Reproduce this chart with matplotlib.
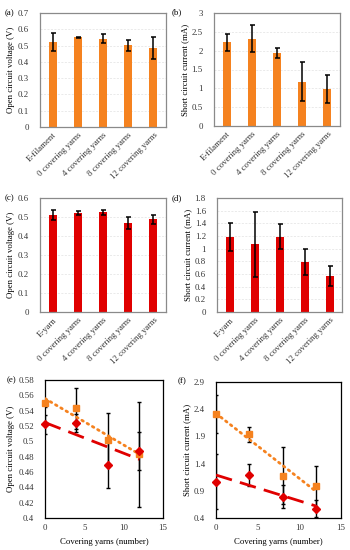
import matplotlib.pyplot as plt
import numpy as np
from matplotlib.ticker import FuncFormatter, MultipleLocator

plt.rcParams['font.family'] = ['Liberation Serif', 'DejaVu Serif']
plt.rcParams['font.size'] = 6.3

ORANGE = '#f5821f'
RED = '#e00000'

# bar chart data
fil_labels = ['E-filament', '0 covering yarns', '4 covering yarns',
              '8 covering yarns', '12 covering yarns']
yarn_labels = ['E-yarn', '0 covering yarns', '4 covering yarns',
               '8 covering yarns', '12 covering yarns']

fil_voc = [0.520, 0.550, 0.543, 0.502, 0.483]
fil_voc_err = [0.055, 0.005, 0.027, 0.035, 0.068]
fil_isc = [2.22, 2.32, 1.94, 1.18, 0.98]
fil_isc_err = [0.23, 0.35, 0.14, 0.52, 0.38]

yarn_voc = [0.510, 0.522, 0.524, 0.469, 0.487]
yarn_voc_err = [0.025, 0.012, 0.012, 0.030, 0.025]
yarn_isc = [1.18, 1.07, 1.19, 0.79, 0.57]
yarn_isc_err = [0.22, 0.51, 0.20, 0.21, 0.16]

# scatter data: number of covering yarns
cover_n = [0, 4, 8, 12]


def fmt(v, pos):
    return '%g' % round(v, 3)


def bar_panel(ax, labels, vals, errs, color, ymax, step, ylabel):
    x = np.arange(len(labels))
    ax.bar(x, vals, width=0.32, color=color, zorder=2)
    ax.errorbar(x, vals, yerr=errs, fmt='none', ecolor='black',
                elinewidth=1.1, capsize=1.8, capthick=1.1, zorder=3)
    ax.set_xlim(-0.5, len(labels) - 0.5)
    ax.set_ylim(0, ymax)
    ax.yaxis.set_major_locator(MultipleLocator(step))
    ax.yaxis.set_major_formatter(FuncFormatter(fmt))
    ax.set_xticks(x)
    ax.set_xticklabels(labels, rotation=45, ha='right', va='top',
                       rotation_mode='anchor')
    ax.tick_params(length=0, pad=3, colors='#333333')
    ax.tick_params(axis='y', pad=8)
    ax.yaxis.grid(True, color='#e2e2e2', lw=0.5, ls=(0, (3, 2)), zorder=0)
    for s in ax.spines.values():
        s.set_color('#8a8a8a')
        s.set_linewidth(0.9)
    ax.set_ylabel(ylabel, labelpad=2)


def trend_panel(ax, fil, fil_err, yarn, yarn_err, ylo, yhi, step, ylabel):
    xs = np.array(cover_n)
    ax.errorbar(cover_n, fil, yerr=fil_err, fmt='none', ecolor='black',
                elinewidth=1.0, capsize=1.5, capthick=1.0, zorder=2)
    ax.errorbar(cover_n, yarn, yerr=yarn_err, fmt='none', ecolor='black',
                elinewidth=1.0, capsize=1.5, capthick=1.0, zorder=2)
    p = np.polyfit(xs, fil, 1)
    ax.plot(xs, np.polyval(p, xs), color=ORANGE, lw=2.0,
            ls=(0, (0.6, 1.6)), dash_capstyle='round', zorder=3)
    p = np.polyfit(xs, yarn, 1)
    ax.plot(xs, np.polyval(p, xs), color=RED, lw=2.0,
            ls=(0, (6, 3)), zorder=3)
    ax.plot(cover_n, fil, 's', color=ORANGE, ms=4.5, zorder=4, clip_on=False)
    ax.plot(cover_n, yarn, 'D', color=RED, ms=3.8, zorder=4, clip_on=False)
    ax.set_xlim(0, 15)
    ax.set_ylim(ylo, yhi)
    ax.xaxis.set_major_locator(MultipleLocator(5))
    ax.set_yticks(np.arange(ylo, yhi + step / 2, step))
    ax.yaxis.set_major_formatter(FuncFormatter(fmt))
    ax.tick_params(length=0, pad=4, colors='#333333')
    ax.tick_params(axis='y', pad=8)
    for s in ax.spines.values():
        s.set_color('black')
        s.set_linewidth(0.9)
    ax.set_xlabel('Covering yarns (number)', labelpad=5)
    ax.set_ylabel(ylabel, labelpad=2)


fig = plt.figure(figsize=(3.5, 5.5), dpi=100)
W, H = 350.0, 550.0


def add_ax(l, r, t, b):
    return fig.add_axes([l / W, 1 - b / H, (r - l) / W, (b - t) / H])


ax_a = add_ax(40, 166, 13, 127)
ax_b = add_ax(214, 340, 13, 126)
ax_c = add_ax(40, 166, 198, 312)
ax_d = add_ax(217, 342, 198, 312)
ax_e = add_ax(45, 163, 380, 518)
ax_f = add_ax(216, 341, 382, 518)

bar_panel(ax_a, fil_labels, fil_voc, fil_voc_err, ORANGE, 0.7, 0.1,
          'Open circuit voltage (V)')
bar_panel(ax_b, fil_labels, fil_isc, fil_isc_err, ORANGE, 3.0, 0.5,
          'Short circuit current (mA)')
bar_panel(ax_c, yarn_labels, yarn_voc, yarn_voc_err, RED, 0.6, 0.1,
          'Open circuit voltage (V)')
bar_panel(ax_d, yarn_labels, yarn_isc, yarn_isc_err, RED, 1.8, 0.2,
          'Short circuit current (mA)')
trend_panel(ax_e, fil_voc[1:], fil_voc_err[1:], yarn_voc[1:],
            yarn_voc_err[1:], 0.4, 0.58, 0.02, 'Open circuit voltage (V)')
trend_panel(ax_f, fil_isc[1:], fil_isc_err[1:], yarn_isc[1:],
            yarn_isc_err[1:], 0.4, 2.9, 0.5, 'Short circuit current (mA)')

for lab, px, py in [('(a)', 5, 13), ('(b)', 172, 12), ('(c)', 5, 198),
                    ('(d)', 172, 198), ('(e)', 7, 380), ('(f)', 178, 381)]:
    fig.text(px / W, 1 - py / H, lab, fontsize=6.3,
             ha='left', va='center')

fig.savefig('out.png', dpi=100)
